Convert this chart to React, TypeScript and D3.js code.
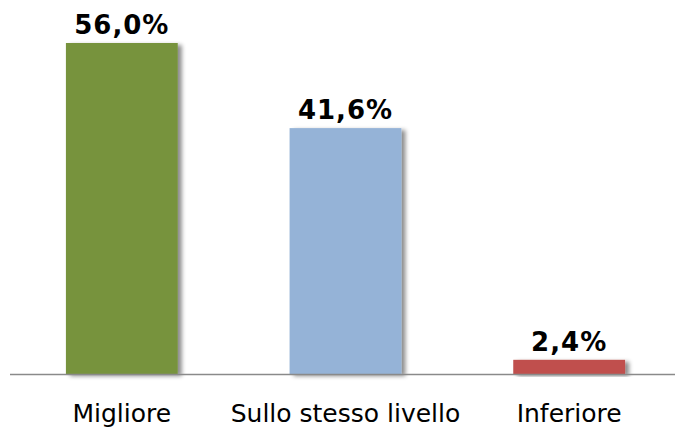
import React from "react";
import * as d3 from "d3";

const categories = ["Migliore", "Sullo stesso livello", "Inferiore"];
const values = [56.0, 41.6, 2.4];
const valueLabels = ["56,0%", "41,6%", "2,4%"];
const colors = ["#77933C", "#95B3D7", "#C0504D"];

export default function App() {
  const W = 675, H = 429;
  const baseY = 374;
  const x = d3.scaleBand<string>().domain(categories).range([10, 681]).paddingInner(0.5).paddingOuter(0.25);
  const y = d3.scaleLinear().domain([0, 56]).range([baseY, 43]);
  return (
    <svg width={W} height={H} style={{ position: "absolute", left: 0, top: 0 }}>
      <defs>
        <filter id="sh" x="-20%" y="-20%" width="150%" height="140%">
          <feDropShadow dx="4" dy="2" stdDeviation="2" floodColor="#000" floodOpacity="0.45" />
        </filter>
      </defs>
      {categories.map((c, i) => (
        <rect key={c} x={x(c)!} y={y(values[i])} width={x.bandwidth()} height={baseY - y(values[i])}
          fill={colors[i]} filter="url(#sh)" />
      ))}
      <line x1={10} x2={675} y1={baseY + 0.5} y2={baseY + 0.5} stroke="#8a8a8a" strokeWidth={1.5} />
      {categories.map((c, i) => (
        <text key={"v" + c} x={x(c)! + x.bandwidth() / 2} y={y(values[i]) - 9} textAnchor="middle"
          fontFamily="DejaVu Sans" fontWeight="bold" fontSize={26} letterSpacing={1} fill="#000">
          {valueLabels[i]}
        </text>
      ))}
      {categories.map((c, i) => (
        <text key={"c" + c} x={x(c)! + x.bandwidth() / 2} y={422} textAnchor="middle"
          fontFamily="DejaVu Sans" fontSize={25} fill="#000">
          {c}
        </text>
      ))}
    </svg>
  );
}
